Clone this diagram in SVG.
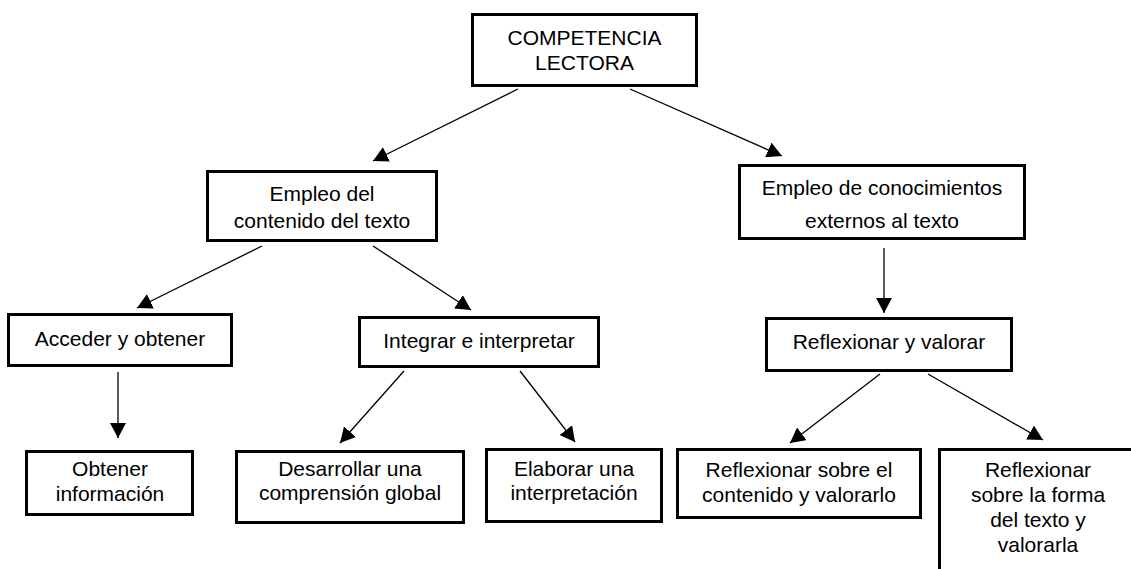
<svg xmlns="http://www.w3.org/2000/svg" width="1131" height="569" viewBox="0 0 1131 569">
<style>
.box{fill:#fff;stroke:#000;stroke-width:3}
.t{font-family:"Liberation Sans",Arial,sans-serif;font-size:21px;fill:#000;text-anchor:middle}
.c{stroke:#000;stroke-width:1.3;fill:none;marker-end:url(#ah)}
</style>
<defs>
<marker id="ah" viewBox="0 0 15 16" markerWidth="15" markerHeight="16" refX="15" refY="8" orient="auto" markerUnits="userSpaceOnUse">
<path d="M0,0 L15,8 L0,16 z" fill="#000"/>
</marker>
</defs>
<rect width="1131" height="569" fill="#fff"/>
<g id="connectors">
<line class="c" x1="518" y1="89" x2="373" y2="161"/>
<line class="c" x1="630" y1="89" x2="782" y2="156"/>
<line class="c" x1="262" y1="246" x2="137" y2="308"/>
<line class="c" x1="373" y1="246" x2="471" y2="310"/>
<line class="c" x1="884" y1="248" x2="884" y2="313"/>
<line class="c" x1="118" y1="372" x2="118" y2="438"/>
<line class="c" x1="404" y1="371" x2="340" y2="443"/>
<line class="c" x1="520" y1="371" x2="575" y2="442"/>
<line class="c" x1="880" y1="374" x2="790" y2="443"/>
<line class="c" x1="928" y1="374" x2="1043" y2="440"/>
</g>
<g id="n-competencia">
<rect class="box" x="472.5" y="14.5" width="224" height="71"/>
<text class="t" x="584.5" y="45">COMPETENCIA</text>
<text class="t" x="584.5" y="70">LECTORA</text>
</g>
<g id="n-empleo-contenido">
<rect class="box" x="207.5" y="171.5" width="229" height="69"/>
<text class="t" x="322" y="201">Empleo del</text>
<text class="t" x="322" y="228">contenido del texto</text>
</g>
<g id="n-empleo-conocimientos">
<rect class="box" x="739.5" y="165.5" width="285" height="73"/>
<text class="t" x="882" y="195">Empleo de conocimientos</text>
<text class="t" x="882" y="228">externos al texto</text>
</g>
<g id="n-acceder">
<rect class="box" x="8.5" y="314.5" width="223" height="51"/>
<text class="t" x="120" y="346">Acceder y obtener</text>
</g>
<g id="n-integrar">
<rect class="box" x="359.5" y="317.5" width="239" height="49"/>
<text class="t" x="479" y="348">Integrar e interpretar</text>
</g>
<g id="n-reflexionar">
<rect class="box" x="766.5" y="318.5" width="245" height="52"/>
<text class="t" x="889" y="349">Reflexionar y valorar</text>
</g>
<g id="n-obtener">
<rect class="box" x="26.5" y="451.5" width="166" height="63"/>
<text class="t" x="110" y="476">Obtener</text>
<text class="t" x="110" y="501">información</text>
</g>
<g id="n-desarrollar">
<rect class="box" x="236.5" y="451.5" width="227" height="71"/>
<text class="t" x="350" y="476">Desarrollar una</text>
<text class="t" x="350" y="500">comprensión global</text>
</g>
<g id="n-elaborar">
<rect class="box" x="486.5" y="449.5" width="175" height="72"/>
<text class="t" x="574" y="476">Elaborar una</text>
<text class="t" x="574" y="500">interpretación</text>
</g>
<g id="n-refl-contenido">
<rect class="box" x="677.5" y="449.5" width="243" height="68"/>
<text class="t" x="799" y="477">Reflexionar sobre el</text>
<text class="t" x="799" y="502">contenido y valorarlo</text>
</g>
<g id="n-refl-forma">
<rect class="box" x="939.5" y="449.5" width="200" height="140"/>
<text class="t" x="1038" y="477">Reflexionar</text>
<text class="t" x="1038" y="502">sobre la forma</text>
<text class="t" x="1038" y="527">del texto y</text>
<text class="t" x="1038" y="552">valorarla</text>
</g>
</svg>
